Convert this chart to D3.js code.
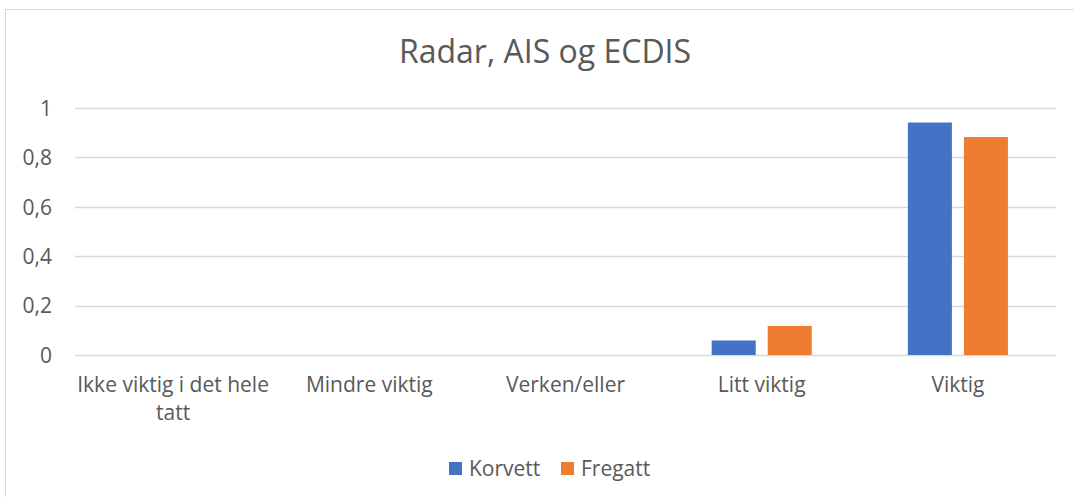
<!DOCTYPE html>
<html>
<head>
    <script src="https://cdn.jsdelivr.net/npm/d3@7/dist/d3.min.js"></script>
    <style>
        body { margin: 0; background: #fff; }
    </style>
</head>

<body>
<div id="chart"></div>

<script>

    var categories = ['Ikke viktig i det hele tatt', 'Mindre viktig', 'Verken/eller', 'Litt viktig', 'Viktig'];
    var series = ['Korvett', 'Fregatt'];
    var korvett = [0, 0, 0, 0.0588, 0.9412];
    var fregatt = [0, 0, 0, 0.1176, 0.8824];
    var yTicks = [0, 0.2, 0.4, 0.6, 0.8, 1];

    var colors = ['#4472C4', '#ED7D31'];
    var font = '"Open Sans", sans-serif';
    var textColor = '#595959';
    var labelSize = 21;

    var width = 1074;
    var height = 497;
    var margin = { top: 108, right: 18, bottom: 142, left: 75 };

    var svg = d3.select('#chart').append('svg')
        .attr('width', width)
        .attr('height', height);

    // chart frame, only left and top edge show
    svg.append('rect')
        .attr('x', 5.5)
        .attr('y', 9.5)
        .attr('width', width + 20)
        .attr('height', height + 20)
        .attr('fill', 'none')
        .attr('stroke', '#d9d9d9');

    svg.append('text')
        .attr('x', 545)
        .attr('y', 63)
        .attr('text-anchor', 'middle')
        .attr('font-family', font)
        .attr('font-size', 32)
        .attr('fill', textColor)
        .text('Radar, AIS og ECDIS');

    var x0 = d3.scaleBand()
        .domain(categories)
        .range([margin.left, width - margin.right]);

    var x1 = d3.scaleBand()
        .domain(series)
        .range([x0.bandwidth() * 0.245, x0.bandwidth() * 0.755])
        .paddingInner(0.2143);

    var y = d3.scaleLinear()
        .domain([0, 1])
        .range([height - margin.bottom, margin.top]);

    // gridlines
    svg.append('g')
        .selectAll('line')
        .data(yTicks)
        .enter()
        .append('line')
        .attr('x1', margin.left)
        .attr('x2', width - margin.right)
        .attr('y1', function(d) { return Math.round(y(d)) + 0.5; })
        .attr('y2', function(d) { return Math.round(y(d)) + 0.5; })
        .attr('stroke', '#d9d9d9')
        .attr('stroke-width', 1.5);

    var yAxis = svg.append('g')
        .attr('transform', 'translate(' + (margin.left - 20) + ',0)')
        .call(d3.axisLeft(y).tickValues(yTicks).tickSize(0)
            .tickFormat(function(d) { return String(d).replace('.', ','); }));
    yAxis.select('.domain').remove();
    yAxis.selectAll('text')
        .attr('font-family', font)
        .attr('font-size', labelSize)
        .attr('fill', textColor)
        .attr('dy', '0.35em');

    var data = categories.map(function(c, i) {
        return { category: c, values: [
            { series: 'Korvett', value: korvett[i] },
            { series: 'Fregatt', value: fregatt[i] }
        ]};
    });

    var groups = svg.selectAll('g.group')
        .data(data)
        .enter()
        .append('g')
        .attr('class', 'group')
        .attr('transform', function(d) { return 'translate(' + x0(d.category) + ',0)'; });

    groups.selectAll('rect')
        .data(function(d) { return d.values; })
        .enter()
        .append('rect')
        .attr('x', function(d) { return x1(d.series); })
        .attr('width', x1.bandwidth())
        .attr('y', function(d) { return y(d.value); })
        .attr('height', function(d) { return y(0) - y(d.value); })
        .attr('fill', function(d, i) { return colors[i]; });

    // category labels, wrapped like the original
    var labelLines = {
        'Ikke viktig i det hele tatt': ['Ikke viktig i det hele', 'tatt']
    };

    var catLabels = svg.append('g')
        .selectAll('text')
        .data(categories)
        .enter()
        .append('text')
        .attr('x', function(d) { return x0(d) + x0.bandwidth() / 2; })
        .attr('y', 392)
        .attr('text-anchor', 'middle')
        .attr('font-family', font)
        .attr('font-size', labelSize)
        .attr('fill', textColor);

    catLabels.each(function(d) {
        var lines = labelLines[d] || [d];
        var t = d3.select(this);
        lines.forEach(function(line, i) {
            t.append('tspan')
                .attr('x', x0(d) + x0.bandwidth() / 2)
                .attr('dy', i === 0 ? 0 : 28)
                .text(line);
        });
    });

    // legend
    var legendX = [449, 561];
    var legend = svg.append('g')
        .selectAll('g')
        .data(series)
        .enter()
        .append('g')
        .attr('transform', function(d, i) { return 'translate(' + legendX[i] + ',462)'; });

    legend.append('rect')
        .attr('width', 13)
        .attr('height', 13)
        .attr('fill', function(d, i) { return colors[i]; });

    legend.append('text')
        .attr('x', 20)
        .attr('y', 14)
        .attr('font-family', font)
        .attr('font-size', labelSize)
        .attr('fill', textColor)
        .text(function(d) { return d; });

</script>
</body>
</html>
